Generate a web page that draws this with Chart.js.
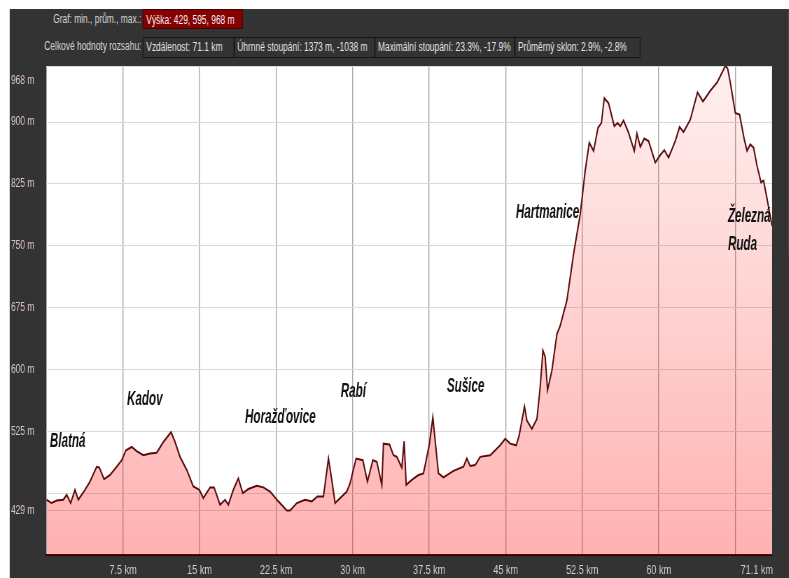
<!DOCTYPE html>
<html lang="cs">
<head>
<meta charset="utf-8">
<title>Výškový profil</title>
<script src="https://cdn.jsdelivr.net/npm/chart.js"></script>
<style>
  html, body { margin: 0; padding: 0; background: #fff; overflow: hidden; }
  body { width: 789px; height: 578px; position: relative; font-family: "Liberation Sans", Arial, sans-serif; }
  /* the whole screenshot is squeezed horizontally, so everything is drawn wider and scaled */
  #stage { position: absolute; left: 0; top: 0; width: 1127px; height: 578px; transform: scaleX(0.7); transform-origin: 0 0; }
  #panel { position: absolute; left: 14px; top: 9px; right: 0; bottom: 0; background: #333; }
  .lbl { position: absolute; left: 0; width: 202px; text-align: right; color: #d4d4d4; font-size: 12px; white-space: nowrap; }
  .box { position: absolute; box-sizing: border-box; border: 1px solid #161616; color: #e2e2e2; font-size: 12px; padding-left: 4px; white-space: nowrap; }
  .r1 { top: 9px; height: 20px; line-height: 20px; }
  .r2 { top: 37px; height: 21px; line-height: 19px; }
  #vyska { left: 204px; width: 143px; background: #850000; border-color: #4a0000; color: #f2f2f2; }
  #profil { position: absolute; left: 0; top: 60px; }
</style>
</head>
<body>
<div id="stage">
  <div id="panel"></div>
  <div class="lbl r1" id="l1"></div>
  <div class="box r1" id="vyska"></div>
  <div class="lbl r2" id="l2"></div>
  <div class="box r2" id="b1" style="left:204px;width:131px"></div>
  <div class="box r2" id="b2" style="left:334px;width:202px"></div>
  <div class="box r2" id="b3" style="left:535px;width:201px"></div>
  <div class="box r2" id="b4" style="left:735px;width:180px"></div>
  <canvas id="profil" width="1127" height="518"></canvas>
</div>
<script>
// Texty v hlavičce
const headerLabels = ["Graf: min., prům., max.:", "Celkové hodnoty rozsahu:"];
const headerHeight = "Výška: 429, 595, 968 m";
const headerStats = [
  "Vzdálenost: 71.1 km",
  "Úhrnné stoupání: 1373 m, -1038 m",
  "Maximální stoupání: 23.3%, -17.9%",
  "Průměrný sklon: 2.9%, -2.8%"
];

// Profil trasy: vzdálenost (km) a nadmořská výška (m)
const distanceKm = [
  0, 0.5, 1.0, 1.65, 1.98, 2.37, 2.79, 3.12, 3.77, 4.26,
  4.92, 5.18, 5.64, 6.23, 6.88, 7.37, 7.79, 8.35, 8.84, 9.49,
  10.15, 10.8, 11.45, 12.21, 12.6, 13.09, 13.75, 14.39, 14.98, 15.37,
  16.03, 16.42, 17.01, 17.5, 17.82, 18.31, 18.8, 19.24, 19.78, 20.61,
  21.25, 21.91, 22.73, 23.55, 23.87, 24.53, 25.34, 26.0, 26.55, 27.14,
  27.63, 27.96, 28.28, 28.77, 29.43, 29.75, 30.34, 31.0, 31.45, 31.98,
  32.37, 32.86, 33.02, 33.61, 34.0, 34.33, 34.82, 35.05, 35.25, 35.8,
  36.45, 36.94, 37.53, 37.86, 38.41, 38.9, 39.88, 40.86, 41.19, 41.52,
  42.01, 42.5, 43.48, 44.46, 44.95, 45.44, 46.03, 46.32, 46.84, 47.08,
  47.57, 48.06, 48.38, 48.65, 48.87, 49.1, 49.53, 50.02, 50.34, 51.0,
  51.65, 52.3, 52.79, 53.19, 53.61, 54.05, 54.38, 54.66, 55.08, 55.64,
  55.96, 56.23, 56.55, 57.04, 57.6, 57.86, 58.19, 58.58, 59.0, 59.66,
  60.15, 60.54, 60.96, 61.62, 62.04, 62.43, 63.09, 63.8, 64.33, 65.05,
  65.71, 66.2, 66.52, 66.75, 67.01, 67.5, 67.92, 68.38, 68.65, 68.97,
  69.29, 69.63, 70.02, 70.27, 70.61, 71.1
];
const elevationM = [
  442, 438, 441, 442, 448, 438, 454, 442, 454, 464,
  482, 481, 467, 472, 482, 490, 502, 506, 501, 496,
  498, 499, 512, 524, 512, 494, 478, 458, 454, 444,
  457, 457, 436, 442, 436, 454, 468, 450, 455, 459,
  457, 452, 440, 429, 429, 438, 442, 440, 446, 446,
  492, 466, 438, 444, 452, 462, 492, 490, 464, 490,
  488, 460, 510, 509, 496, 494, 481, 513, 460, 466,
  472, 474, 510, 542, 474, 469, 477, 482, 492, 483,
  484, 494, 496, 508, 516, 510, 508, 520, 555, 538,
  528, 540, 579, 623, 615, 575, 599, 643, 653, 684,
  740, 788, 841, 875, 865, 893, 899, 929, 923, 895,
  899, 895, 902, 887, 865, 886, 870, 880, 877, 851,
  860, 866, 857, 877, 894, 888, 903, 936, 925, 938,
  948, 960, 968, 965, 948, 911, 909, 879, 865, 873,
  869, 847, 827, 829, 807, 774
];

// Popisky os
const xTickKm = [7.5, 15, 22.5, 30, 37.5, 45, 52.5, 60, 67.5, 71.1];
const xTickLabels = ["7.5 km", "15 km", "22.5 km", "30 km", "37.5 km", "45 km", "52.5 km", "60 km", "", "71.1 km"];
const yTickM = [429, 450, 525, 600, 675, 750, 825, 900, 968];
const yTickLabels = ["429 m", "", "525 m", "600 m", "675 m", "750 m", "825 m", "900 m", "968 m"];

// Obce podél trasy (km, výška účaří popisku)
const placeNames = ["Blatná", "Kadov", "Horažďovice", "Rabí", "Sušice", "Hartmanice", "Železná", "Ruda"];
const placeKm = [0.34, 7.89, 19.46, 28.84, 39.24, 46.0, 66.78, 66.78];
const placeM = [506, 557, 535, 566, 573, 784, 779, 745];

document.getElementById("l1").textContent = headerLabels[0];
document.getElementById("l2").textContent = headerLabels[1];
document.getElementById("vyska").textContent = headerHeight;
["b1", "b2", "b3", "b4"].forEach(function (id, i) {
  document.getElementById(id).textContent = headerStats[i];
});

// bílé pozadí grafu
const plotBackground = {
  id: "plotBackground",
  beforeDraw(chart) {
    const { ctx, chartArea: a } = chart;
    ctx.save();
    ctx.fillStyle = "#ffffff";
    ctx.fillRect(a.left, a.top, a.right - a.left, a.bottom - a.top);
    ctx.restore();
  }
};

// názvy obcí nad profilem
const placeLabels = {
  id: "placeLabels",
  afterDatasetsDraw(chart) {
    const { ctx, scales } = chart;
    ctx.save();
    ctx.fillStyle = "#111111";
    ctx.font = 'italic bold 21px "Liberation Sans", Arial, sans-serif';
    ctx.textBaseline = "alphabetic";
    ctx.textAlign = "left";
    placeNames.forEach(function (name, i) {
      ctx.save();
      ctx.translate(scales.x.getPixelForValue(placeKm[i]), scales.y.getPixelForValue(placeM[i]));
      ctx.scale(0.79, 1);
      ctx.fillText(name, 0, 0);
      ctx.restore();
    });
    ctx.restore();
  }
};

const ctx = document.getElementById("profil").getContext("2d");
new Chart(ctx, {
  type: "line",
  data: {
    datasets: [
      {
        data: distanceKm.map(function (km, i) { return { x: km, y: elevationM[i] }; }),
        borderColor: "#5a0a0a",
        borderWidth: 2,
        pointRadius: 0,
        tension: 0,
        fill: "start",
        backgroundColor: function (c) {
          const a = c.chart.chartArea;
          if (!a) return "rgba(255,0,0,0.2)";
          const g = c.chart.ctx.createLinearGradient(0, a.top, 0, a.bottom);
          g.addColorStop(0, "rgba(255,0,0,0.06)");
          g.addColorStop(1, "rgba(255,0,0,0.30)");
          return g;
        }
      }
    ]
  },
  options: {
    responsive: false,
    animation: false,
    devicePixelRatio: 1,
    layout: { padding: { left: 15.7, right: 24.1, top: 6, bottom: 0 } },
    plugins: {
      legend: { display: false },
      tooltip: { enabled: false }
    },
    scales: {
      x: {
        type: "linear",
        min: 0,
        max: 71.1,
        afterBuildTicks: function (s) { s.ticks = xTickKm.map(function (v) { return { value: v }; }); },
        afterFit: function (s) { s.height = 23; s.paddingLeft = 0; s.paddingRight = 0; },
        ticks: {
          color: "#cfcfcf",
          font: { family: '"Liberation Sans", Arial, sans-serif', size: 13 },
          padding: 8,
          maxRotation: 0,
          autoSkip: false,
          callback: function (v, i) {
            const t = xTickLabels[i];
            // poslední popisek zarovnaný k pravému okraji
            return i === xTickLabels.length - 1 ? t + "\u00a0".repeat(12) : t;
          }
        },
        grid: {
          color: function (c) { return c.tick && c.tick.value > 70 ? "rgba(0,0,0,0)" : "#a9a9a9"; },
          lineWidth: 1.4,
          drawTicks: false
        },
        border: { color: "#2a0505", width: 2 }
      },
      y: {
        min: 375,
        max: 968,
        afterBuildTicks: function (s) { s.ticks = yTickM.map(function (v) { return { value: v }; }); },
        afterFit: function (s) { s.width = 50.7; s.paddingTop = 0; s.paddingBottom = 0; },
        ticks: {
          crossAlign: "far",
          color: "#d6c4c4",
          font: { family: '"Liberation Sans", Arial, sans-serif', size: 12 },
          autoSkip: false,
          callback: function (v, i) {
            // nejvyšší hodnota je posunutá pod horní okraj
            return i === yTickLabels.length - 1 ? ["", "", yTickLabels[i]] : yTickLabels[i];
          }
        },
        grid: { color: "#dadada", lineWidth: 1, drawTicks: false },
        border: { display: false }
      }
    }
  },
  plugins: [plotBackground, placeLabels]
});
</script>
</body>
</html>
